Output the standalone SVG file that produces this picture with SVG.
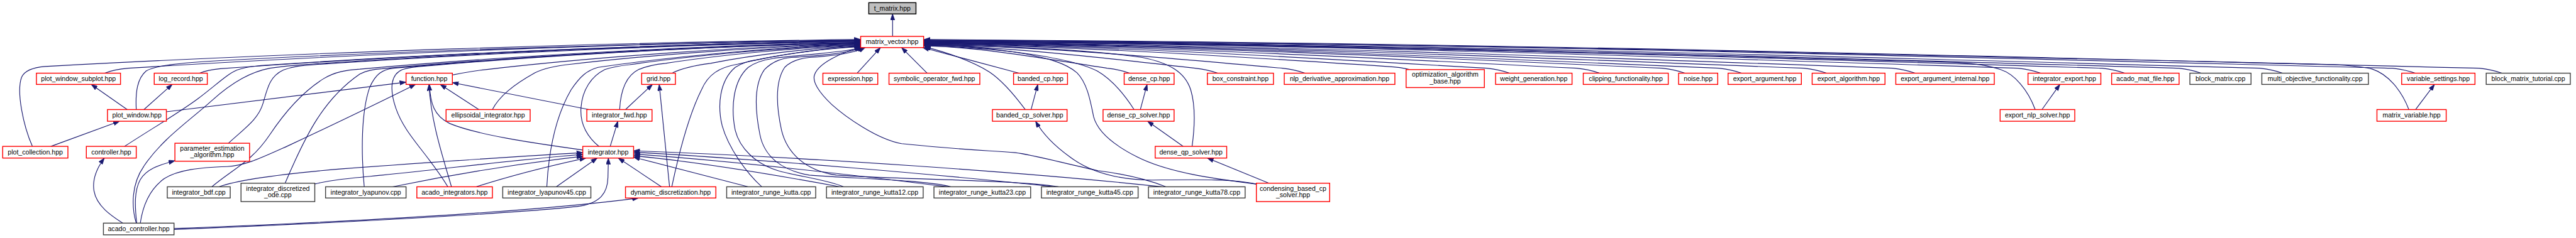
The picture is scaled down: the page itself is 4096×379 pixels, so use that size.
<svg xmlns="http://www.w3.org/2000/svg" width="4096" height="379" viewBox="0 0 4096 379">
<defs>
<style>
.e{fill:none;stroke:#191970;stroke-width:1.6;marker-end:url(#a)}
.r{fill:#fff;stroke:#ff0000;stroke-width:2}
.k{fill:#fff;stroke:#404040;stroke-width:2}
.g{fill:#bfbfbf;stroke:#000;stroke-width:2}
.t{font-family:"Liberation Sans",Arial,sans-serif;font-size:14.8px;fill:#000;text-anchor:middle}
</style>
<marker id="a" viewBox="0 0 14 10" refX="14" refY="5" markerWidth="14" markerHeight="10" markerUnits="userSpaceOnUse" orient="auto"><path d="M0,0 L14,5 L0,10 z" fill="#191970" stroke="#191970" stroke-width="1"/></marker>
</defs>
<rect width="4096" height="379" fill="#fff"/>
<g transform="scale(0.715)">
<g id="edges">
<path class="e" d="M1985,81 L1985,31"/>
<path class="e" d="M72,326 C52,280 36,205 48,172 C55,156 75,150 100,148 C644,118 1370,94 1914,88"/>
<path class="e" d="M233,163 C245,158 262,154 285,152 C774,120.5 1425,95.3 1914,89"/>
<path class="e" d="M303,244 C301,205 305,175 325,158 C345,146 400,140 490,135 C917,112.5 1487,94.5 1914,90"/>
<path class="e" d="M444,163 C456,158 470,155 490,153 C917,122 1487,97.2 1914,91"/>
<path class="e" d="M277,326 C340,285 400,250 440,220 C480,190 505,165 527,156 C545,149 560,148 580,146 C980,118.8 1514,97 1914,91.5"/>
<path class="e" d="M303,497 C292,460 292,410 320,370 C360,310 420,270 470,225 C520,180 560,160 600,152 C640,146 660,145 690,143 C1057,117.5 1547,97.1 1914,92"/>
<path class="e" d="M508,319 C545,285 575,265 585,230 C595,195 600,170 630,156 C650,148 670,146 700,144 C1064,118.5 1550,98.1 1914,93"/>
<path class="e" d="M471,416 C520,375 560,360 600,300 C640,240 680,200 720,175 C745,160 770,156 800,154 C1134,124 1580,100 1914,94"/>
<path class="e" d="M634,408 C680,300 720,220 800,165 C815,157 830,154 850,153 C1169,124 1595,100.8 1914,95"/>
<path class="e" d="M810,416 C803,340 803,250 822,195 C835,165 850,155 875,152 C1187,123.8 1602,101.2 1914,95.5"/>
<path class="e" d="M996,416 C950,340 900,300 880,240 C865,195 870,165 895,155 C915,148 935,148 960,146 C1246,121 1628,101 1914,96"/>
<path class="e" d="M1006,167 C1030,162 1050,158 1080,155 C1330,126 1664,102.8 1914,97"/>
<path class="e" d="M1095,244 C1110,215 1140,190 1190,162 C1210,152 1240,146 1270,143 C1463,120.5 1721,102.5 1914,98"/>
<path class="e" d="M1216,416 C1220,340 1235,260 1270,200 C1290,170 1305,157 1330,150 C1505,124.5 1739,104.1 1914,99"/>
<path class="e" d="M1333,327 C1300,300 1290,270 1292,240 C1295,200 1315,170 1345,155 C1365,148 1380,146 1400,144 C1554,122 1760,104.4 1914,100"/>
<path class="e" d="M1378,244 C1380,205 1390,170 1420,155 C1440,146 1460,143 1480,141 C1610,121 1784,105 1914,101"/>
<path class="e" d="M1496,162 C1515,153 1540,146 1580,141 C1680,121.5 1814,105.9 1914,102"/>
<path class="e" d="M1494,416 C1510,340 1530,260 1560,200 C1575,165 1600,150 1640,143 C1722,123 1832,107 1914,103"/>
<path class="e" d="M1694,416 C1660,385 1620,330 1606,280 C1595,235 1600,180 1635,150 C1650,140 1665,136 1690,132 C1757,118 1847,106.8 1914,104"/>
<path class="e" d="M1876,416 C1840,400 1770,392 1730,380 C1680,365 1645,330 1635,290 C1625,240 1630,180 1664,150 C1680,138 1700,133 1720,130 C1780,122 1870,118 1918,106"/>
<path class="e" d="M2115,416 C2050,400 1900,398 1800,390 C1740,380 1700,350 1690,300 C1680,250 1675,190 1700,155 C1720,135 1740,130 1760,128 C1820,124 1880,120 1921,106"/>
<path class="e" d="M2354,416 C2250,400 2000,400 1860,390 C1790,380 1750,340 1738,290 C1725,230 1725,180 1745,150 C1760,135 1780,130 1800,128 C1850,125 1895,120 1924,106"/>
<path class="e" d="M2593,416 C2540,395 2480,385 2442,380 C2370,365 2300,345 2258,340 C2200,335 2150,335 2005,320 C1950,310 1880,260 1850,233 C1820,205 1805,180 1812,165 C1822,140 1870,118 1914,105"/>
<path class="e" d="M1906,163 L1958,106"/>
<path class="e" d="M2062,163 L2005,106"/>
<path class="e" d="M2266,163 C2200,145 2120,124 2052,106"/>
<path class="e" d="M5564,163 C5550,158 5534,154 5514,152 C4361,123 3208,94 2055,88"/>
<path class="e" d="M5371,163 C5357,158 5341,154 5321,152 C4232,123.6 3144,95.1 2055,88.8"/>
<path class="e" d="M5357,244 C5340,200 5310,165 5276,154 C5250,147 5220,146 5190,144 C4145,119.5 3100,95 2055,89.5"/>
<path class="e" d="M5076,163 C5062,158 5046,154 5026,152 C4036,124.2 3045,96.4 2055,90.2"/>
<path class="e" d="M4895,163 C4881,158 4865,154 4845,152 C3915,124.6 2985,97.1 2055,91"/>
<path class="e" d="M4725,163 C4711,158 4695,154 4675,152 C3802,124.9 2928,97.7 2055,91.7"/>
<path class="e" d="M4538,163 C4524,158 4508,154 4488,152 C3677,125.2 2866,98.4 2055,92.4"/>
<path class="e" d="M4526,244 C4510,200 4480,165 4449,155 C4420,145 4390,141 4351,139 C3586,118.3 2820,97.6 2055,93"/>
<path class="e" d="M4259,163 C4245,158 4229,154 4209,152 C3491,125.8 2773,99.6 2055,93.8"/>
<path class="e" d="M4062,163 C4048,158 4032,154 4012,152 C3360,126.1 2707,100.3 2055,94.5"/>
<path class="e" d="M3873,163 C3859,158 3843,154 3823,152 C3234,126.4 2644,100.9 2055,95.2"/>
<path class="e" d="M3747,163 C3733,158 3717,154 3697,152 C3150,126.8 2602,101.6 2055,96"/>
<path class="e" d="M3557,163 C3543,158 3527,154 3507,152 C3023,127.1 2539,102.2 2055,96.7"/>
<path class="e" d="M3357,163 C3343,158 3327,154 3307,152 C2890,127.4 2472,102.9 2055,97.4"/>
<path class="e" d="M3135,155 C3121,151 3105,149 3085,148 C2742,125.5 2398,103 2055,98"/>
<path class="e" d="M2902,163 C2888,158 2872,154 2852,152 C2586,128 2321,104.1 2055,98.8"/>
<path class="e" d="M2794,410 C2700,398 2600,385 2530,350 C2470,320 2440,290 2432,260 C2425,225 2418,185 2395,162 C2370,140 2330,130 2280,120 C2200,106 2110,101 2055,99.5"/>
<path class="e" d="M2708,163 C2694,158 2678,154 2658,152 C2457,128.7 2256,105.4 2055,100.2"/>
<path class="e" d="M2651,326 C2656,290 2660,240 2648,200 C2635,160 2600,140 2540,128 C2400,108 2200,102 2055,101"/>
<path class="e" d="M2512,163 C2498,158 2482,154 2462,152 C2326,131 2190,106 2055,101.7"/>
<path class="e" d="M2522,244 C2500,210 2470,175 2440,158 C2400,138 2330,125 2250,115 C2180,107 2100,103 2055,102.4"/>
<path class="e" d="M2280,244 C2255,210 2230,180 2200,160 C2160,135 2110,118 2056,104"/>
<path class="e" d="M283,244 L203,188"/>
<path class="e" d="M320,244 L383,188"/>
<path class="e" d="M370,249 L903,183"/>
<path class="e" d="M113,326 L266,270"/>
<path class="e" d="M273,497 C250,482 215,460 209,425 C205,400 215,375 232,352"/>
<path class="e" d="M304,497 C300,460 298,425 312,400 C325,378 350,368 389,358"/>
<path class="e" d="M312,497 C318,455 335,420 365,398 C395,378 445,373 505,371 C545,369 580,352 640,325 C740,278 850,225 924,188"/>
<path class="e" d="M387,509 C800,493 1200,470 1420,441"/>
<path class="e" d="M387,511 C800,495 1200,471 1290,459 C1335,451 1351,430 1352,395 L1353,352"/>
<path class="e" d="M1296,334 C1180,318 1060,300 1000,275 C965,258 957,230 955,188"/>
<path class="e" d="M1004,416 C985,350 958,270 954,188"/>
<path class="e" d="M1065,244 L979,188"/>
<path class="e" d="M1310,244 L1006,184"/>
<path class="e" d="M1391,244 L1451,188"/>
<path class="e" d="M1357,326 L1374,270"/>
<path class="e" d="M1489,416 L1466,188"/>
<path class="e" d="M1471,416 L1375,352"/>
<path class="e" d="M487,416 C530,400 620,388 760,376 C950,362 1150,348 1296,340"/>
<path class="e" d="M699,410 C740,400 780,397 850,390 C1000,375 1150,355 1296,344"/>
<path class="e" d="M873,416 C1000,390 1150,365 1296,348"/>
<path class="e" d="M1059,416 C1140,390 1220,370 1303,352"/>
<path class="e" d="M1237,416 L1328,352"/>
<path class="e" d="M1664,416 L1409,350"/>
<path class="e" d="M1868,416 C1700,385 1550,360 1409,347"/>
<path class="e" d="M2106,416 C1900,390 1650,360 1409,343"/>
<path class="e" d="M2345,416 C2100,390 1700,355 1409,339"/>
<path class="e" d="M2583,416 C2300,385 1800,350 1409,336"/>
<path class="e" d="M2293,244 L2308,188"/>
<path class="e" d="M2536,244 L2551,188"/>
<path class="e" d="M2631,326 L2552,270"/>
<path class="e" d="M2822,408 L2685,352"/>
<path class="e" d="M2794,410 C2740,398 2660,400 2560,401 C2480,400 2420,380 2380,350 C2345,325 2320,300 2303,270"/>
<path class="e" d="M4541,244 L4581,188"/>
<path class="e" d="M5372,244 L5414,188"/>
</g>
<g id="n_t_matrix"><rect class="g" x="1932" y="6" width="105" height="25"/><text class="t" x="1984.5" y="23.5">t_matrix.hpp</text></g>
<g id="n_matrix_vector"><rect class="r" x="1914" y="81" width="140" height="25"/><text class="t" x="1984" y="98.5">matrix_vector.hpp</text></g>
<g id="n_plot_window_subplot"><rect class="r" x="81" y="163" width="187" height="25"/><text class="t" x="174.5" y="180.5">plot_window_subplot.hpp</text></g>
<g id="n_log_record"><rect class="r" x="343" y="163" width="118" height="25"/><text class="t" x="402" y="180.5">log_record.hpp</text></g>
<g id="n_function"><rect class="r" x="903" y="163" width="103" height="25"/><text class="t" x="954.5" y="180.5">function.hpp</text></g>
<g id="n_grid"><rect class="r" x="1427" y="163" width="75" height="25"/><text class="t" x="1464.5" y="180.5">grid.hpp</text></g>
<g id="n_expression"><rect class="r" x="1830" y="163" width="122" height="25"/><text class="t" x="1891" y="180.5">expression.hpp</text></g>
<g id="n_symbolic_operator_fwd"><rect class="r" x="1977" y="163" width="202" height="25"/><text class="t" x="2078" y="180.5">symbolic_operator_fwd.hpp</text></g>
<g id="n_banded_cp"><rect class="r" x="2254" y="163" width="120" height="25"/><text class="t" x="2314" y="180.5">banded_cp.hpp</text></g>
<g id="n_dense_cp"><rect class="r" x="2500" y="163" width="111" height="25"/><text class="t" x="2555.5" y="180.5">dense_cp.hpp</text></g>
<g id="n_box_constraint"><rect class="r" x="2685" y="163" width="147" height="25"/><text class="t" x="2758.5" y="180.5">box_constraint.hpp</text></g>
<g id="n_nlp_derivative_approximation"><rect class="r" x="2856" y="163" width="246" height="25"/><text class="t" x="2979" y="180.5">nlp_derivative_approximation.hpp</text></g>
<g id="n_optimization_algorithm_base"><rect class="r" x="3127" y="155" width="174" height="40"/><text class="t" x="3214" y="171">optimization_algorithm</text><text class="t" x="3214" y="186">_base.hpp</text></g>
<g id="n_weight_generation"><rect class="r" x="3326" y="163" width="170" height="25"/><text class="t" x="3411" y="180.5">weight_generation.hpp</text></g>
<g id="n_clipping_functionality"><rect class="r" x="3521" y="163" width="189" height="25"/><text class="t" x="3615.5" y="180.5">clipping_functionality.hpp</text></g>
<g id="n_noise"><rect class="r" x="3733" y="163" width="87" height="25"/><text class="t" x="3776.5" y="180.5">noise.hpp</text></g>
<g id="n_export_argument"><rect class="r" x="3843" y="163" width="163" height="25"/><text class="t" x="3924.5" y="180.5">export_argument.hpp</text></g>
<g id="n_export_algorithm"><rect class="r" x="4030" y="163" width="162" height="25"/><text class="t" x="4111" y="180.5">export_algorithm.hpp</text></g>
<g id="n_export_argument_internal"><rect class="r" x="4216" y="163" width="219" height="25"/><text class="t" x="4325.5" y="180.5">export_argument_internal.hpp</text></g>
<g id="n_integrator_export"><rect class="r" x="4510" y="163" width="162" height="25"/><text class="t" x="4591" y="180.5">integrator_export.hpp</text></g>
<g id="n_acado_mat_file"><rect class="r" x="4696" y="163" width="150" height="25"/><text class="t" x="4771" y="180.5">acado_mat_file.hpp</text></g>
<g id="n_block_matrix"><rect class="k" x="4870" y="163" width="136" height="25"/><text class="t" x="4938" y="180.5">block_matrix.cpp</text></g>
<g id="n_multi_objective_functionality"><rect class="k" x="5030" y="163" width="237" height="25"/><text class="t" x="5148.5" y="180.5">multi_objective_functionality.cpp</text></g>
<g id="n_variable_settings"><rect class="r" x="5341" y="163" width="163" height="25"/><text class="t" x="5422.5" y="180.5">variable_settings.hpp</text></g>
<g id="n_block_matrix_tutorial"><rect class="k" x="5529" y="163" width="187" height="25"/><text class="t" x="5622.5" y="180.5">block_matrix_tutorial.cpp</text></g>
<g id="n_plot_window"><rect class="r" x="239" y="244" width="131" height="26"/><text class="t" x="304.5" y="262">plot_window.hpp</text></g>
<g id="n_ellipsoidal_integrator"><rect class="r" x="992" y="244" width="187" height="26"/><text class="t" x="1085.5" y="262">ellipsoidal_integrator.hpp</text></g>
<g id="n_integrator_fwd"><rect class="r" x="1305" y="244" width="145" height="26"/><text class="t" x="1377.5" y="262">integrator_fwd.hpp</text></g>
<g id="n_banded_cp_solver"><rect class="r" x="2207" y="244" width="166" height="26"/><text class="t" x="2290" y="262">banded_cp_solver.hpp</text></g>
<g id="n_dense_cp_solver"><rect class="r" x="2453" y="244" width="158" height="26"/><text class="t" x="2532" y="262">dense_cp_solver.hpp</text></g>
<g id="n_export_nlp_solver"><rect class="r" x="4448" y="244" width="166" height="26"/><text class="t" x="4531" y="262">export_nlp_solver.hpp</text></g>
<g id="n_matrix_variable"><rect class="r" x="5286" y="244" width="154" height="26"/><text class="t" x="5363" y="262">matrix_variable.hpp</text></g>
<g id="n_plot_collection"><rect class="r" x="6" y="326" width="145" height="26"/><text class="t" x="78.5" y="344">plot_collection.hpp</text></g>
<g id="n_controller"><rect class="r" x="192" y="326" width="111" height="26"/><text class="t" x="247.5" y="344">controller.hpp</text></g>
<g id="n_parameter_estimation_algorithm"><rect class="r" x="389" y="319" width="166" height="40"/><text class="t" x="472" y="335">parameter_estimation</text><text class="t" x="472" y="350">_algorithm.hpp</text></g>
<g id="n_integrator"><rect class="r" x="1296" y="326" width="113" height="26"/><text class="t" x="1352.5" y="344">integrator.hpp</text></g>
<g id="n_dense_qp_solver"><rect class="r" x="2569" y="326" width="159" height="26"/><text class="t" x="2648.5" y="344">dense_qp_solver.hpp</text></g>
<g id="n_integrator_bdf"><rect class="k" x="372" y="416" width="140" height="25"/><text class="t" x="442" y="433.5">integrator_bdf.cpp</text></g>
<g id="n_integrator_discretized_ode"><rect class="k" x="536" y="408" width="164" height="41"/><text class="t" x="618" y="424.5">integrator_discretized</text><text class="t" x="618" y="439.5">_ode.cpp</text></g>
<g id="n_integrator_lyapunov"><rect class="k" x="724" y="416" width="179" height="25"/><text class="t" x="813.5" y="433.5">integrator_lyapunov.cpp</text></g>
<g id="n_acado_integrators"><rect class="r" x="927" y="416" width="168" height="25"/><text class="t" x="1011" y="433.5">acado_integrators.hpp</text></g>
<g id="n_integrator_lyapunov45"><rect class="k" x="1118" y="416" width="196" height="25"/><text class="t" x="1216" y="433.5">integrator_lyapunov45.cpp</text></g>
<g id="n_dynamic_discretization"><rect class="r" x="1391" y="416" width="201" height="25"/><text class="t" x="1491.5" y="433.5">dynamic_discretization.hpp</text></g>
<g id="n_integrator_runge_kutta"><rect class="k" x="1616" y="416" width="198" height="25"/><text class="t" x="1715" y="433.5">integrator_runge_kutta.cpp</text></g>
<g id="n_integrator_runge_kutta12"><rect class="k" x="1838" y="416" width="215" height="25"/><text class="t" x="1945.5" y="433.5">integrator_runge_kutta12.cpp</text></g>
<g id="n_integrator_runge_kutta23"><rect class="k" x="2077" y="416" width="215" height="25"/><text class="t" x="2184.5" y="433.5">integrator_runge_kutta23.cpp</text></g>
<g id="n_integrator_runge_kutta45"><rect class="k" x="2316" y="416" width="215" height="25"/><text class="t" x="2423.5" y="433.5">integrator_runge_kutta45.cpp</text></g>
<g id="n_integrator_runge_kutta78"><rect class="k" x="2554" y="416" width="215" height="25"/><text class="t" x="2661.5" y="433.5">integrator_runge_kutta78.cpp</text></g>
<g id="n_condensing_based_cp_solver"><rect class="r" x="2794" y="408" width="163" height="41"/><text class="t" x="2875.5" y="424.5">condensing_based_cp</text><text class="t" x="2875.5" y="439.5">_solver.hpp</text></g>
<g id="n_acado_controller"><rect class="k" x="230" y="497" width="157" height="26"/><text class="t" x="308.5" y="515">acado_controller.hpp</text></g>
</g>
</svg>
